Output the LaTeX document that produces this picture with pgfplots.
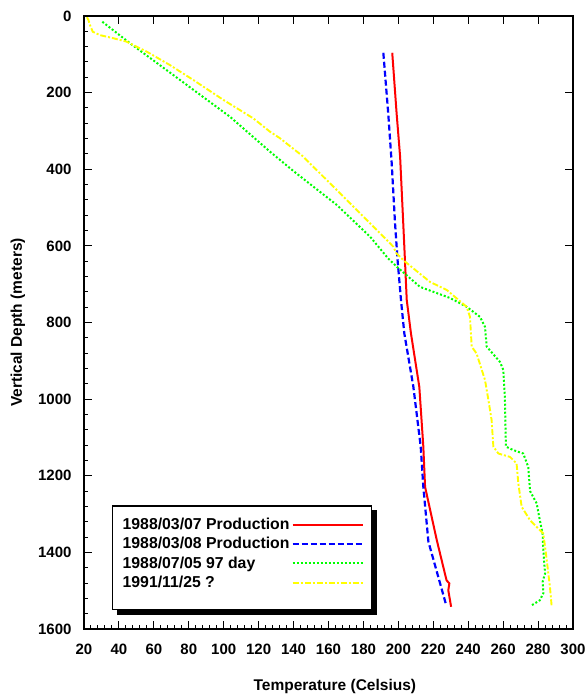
\documentclass[border=0pt]{standalone}
\usepackage{pgfplots}
\pgfplotsset{compat=1.18}
\usepackage{fontspec}
\setmainfont{Liberation Sans}
\pgfdeclarelayer{shadowlayer}
\pgfsetlayers{shadowlayer,main}
\definecolor{cred}{RGB}{255,0,0}
\definecolor{cblue}{RGB}{0,0,255}
\definecolor{cgreen}{RGB}{0,255,0}
\definecolor{cyellow}{RGB}{255,255,0}
\begin{document}
\begin{tikzpicture}
\useasboundingbox (-84pt,-67pt) rectangle (504pt,629pt);
\begin{axis}[
  at={(0pt,0pt)}, anchor=south west,
  scale only axis, width=489pt, height=613pt,
  xmin=20, xmax=300, ymin=0, ymax=1600, y dir=reverse,
  xtick={20,40,...,300}, ytick={0,200,...,1600},
  minor x tick num=4, minor y tick num=4,
  xtick pos=left, ytick pos=left,
  xticklabel pos=left,
  tick align=inside,
  major tick length=8pt, minor tick length=4pt,
  every tick/.style={black, line width=1pt},
  axis line style={line width=1.3pt},
  /pgf/number format/assume math mode=true,
  /pgf/number format/1000 sep={},
  xticklabel style={font=\fontsize{15}{15}\selectfont\bfseries, yshift=-11pt},
  yticklabel style={font=\fontsize{15}{15}\selectfont\bfseries, xshift=-9pt},
  xlabel={Temperature (Celsius)},
  ylabel={Vertical Depth (meters)},
  every axis x label/.style={at={(axis description cs:0.513,-0.093)}, anchor=center, font=\fontsize{15.5}{16}\selectfont\bfseries},
  every axis y label/.style={at={(axis description cs:-0.135,0.5)}, rotate=90, anchor=center, font=\fontsize{15.5}{16}\selectfont\bfseries},
  legend plot pos=right,
  legend cell align=left,
  legend image code/.code={\draw[#1] (0pt,0pt) -- (70pt,0pt);},
  legend style={name=leg, at={(0.0573,0.031)}, anchor=south west, draw=black, line width=1.3pt,
    fill=white,
    font=\fontsize{15.8}{16}\selectfont\bfseries, inner xsep=8pt, inner ysep=10pt,
    row sep=2.5pt},
]
\addplot[cred, line width=2pt, mark=none] coordinates {
(196.5,96) (199,254) (201,367) (202.8,541) (203.6,620) (204.8,741) (207.2,828)
(212,968) (214.3,1124) (215.3,1229) (222,1368) (227.6,1473) (229.2,1481)
(228.6,1499) (230.2,1542)};
\addlegendentry{1988/03/07 Production}
\addplot[cblue, line width=2.2pt, dash pattern=on 6pt off 3pt, mark=none] coordinates {
(191.4,96) (194.2,254) (196.2,385) (198.1,541) (199.6,640) (201.5,741) (203.4,828)
(208.6,968) (212.8,1124) (214.3,1229) (217.2,1372) (227.1,1533)};
\addlegendentry{1988/03/08 Production}
\addplot[cgreen, line width=2pt, dash pattern=on 2pt off 2pt, mark=none] coordinates {
(30.5,15) (46.3,71) (75,167) (103.6,263) (126.5,354) (140,405) (164.7,493)
(183.8,576) (194.2,633) (199,654) (212.4,707) (229.6,736) (239.1,759) (246.7,785)
(249.6,811) (250.6,863) (258.2,903) (260.1,924) (261,994) (261.6,1124) (265.8,1133)
(271.5,1142) (274.4,1177) (275.4,1240) (279.2,1272) (281,1316) (282.6,1351)
(283,1394) (284,1455) (282.6,1477) (283,1507) (281,1525) (276.4,1538)};
\addlegendentry{1988/07/05 97 day}
\addplot[cyellow, line width=1.9pt, dash pattern=on 6pt off 2pt on 2pt off 2pt, mark=none] coordinates {
(21.7,3) (22.5,10) (23.4,23) (25,41) (29.2,50) (36.8,58) (44.4,67) (55.9,93)
(69.2,128) (75,145) (82.6,167) (99.8,219) (116.9,267) (126.5,302) (132.2,319)
(145,365) (164.7,454) (183.8,541) (197.1,602) (199,620) (203.8,641) (218.1,694)
(227.7,715) (239.1,759) (241,785) (242,863) (244.8,881) (249.6,950) (251.6,1003)
(253.4,1055) (254.4,1124) (257.3,1142) (264,1151) (267.7,1168) (268.7,1220)
(270.6,1281) (275.4,1316) (283,1351) (284.5,1403) (286.8,1490) (287.8,1542)};
\addlegendentry{1991/11/25 ?}
\addlegendimage{empty legend}
\addlegendentry{}
\end{axis}
\begin{pgfonlayer}{shadowlayer}
\fill[black] ([xshift=5pt,yshift=-5pt]leg.south west) rectangle ([xshift=5pt,yshift=-5pt]leg.north east);
\end{pgfonlayer}
\begin{axis}[
  at={(0pt,0pt)}, anchor=south west,
  scale only axis, width=489pt, height=613pt,
  xmin=20, xmax=300, ymin=0, ymax=1600, y dir=reverse,
  xtick={20,40,...,300}, ytick={0,200,...,1600},
  xtick pos=right, ytick pos=right,
  xticklabels={}, yticklabels={},
  tick align=inside, major tick length=8pt,
  every tick/.style={black, line width=1pt},
  axis line style={line width=1.3pt},
]
\end{axis}
\end{tikzpicture}
\end{document}
